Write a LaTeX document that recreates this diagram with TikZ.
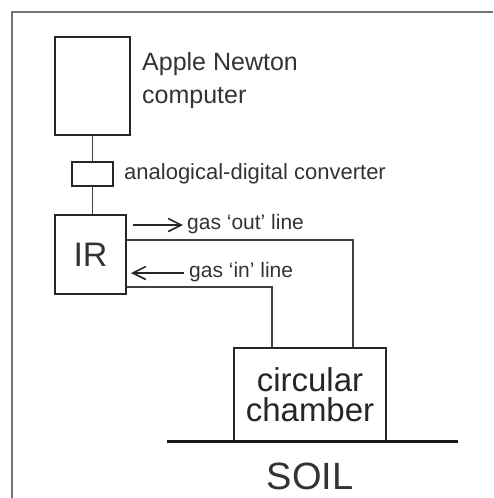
\documentclass[tikz,border=0pt]{standalone}
\usepackage{fontspec}
\setmainfont{Liberation Sans}
\usetikzlibrary{arrows.meta}

\tikzset{
  box/.style={draw=black!85, line width=1.7pt, inner sep=0pt},
  lbl/.style={text=black!80, inner sep=0pt},
  pipe/.style={draw=black!75, line width=1.3pt},
  tag/.style={draw=black!85, line width=1.2pt, -{Straight Barb[length=13pt,width=13pt,line width=1.6pt]}},
}

\begin{document}
\begin{tikzpicture}[x=1pt,y=-1pt]
  \useasboundingbox (0,0) rectangle (493,498);
  % frame
  \draw[black!55, line width=1.3pt] (12,498) -- (12,12) -- (493,12);

  % computer and converter
  \node[box, minimum width=75pt, minimum height=98pt] (computer) at (92.5,86) {};
  \node[lbl, anchor=west, align=left, font=\fontsize{25}{33}\selectfont] (compname) at (142,81) {Apple Newton\\computer};
  \node[box, minimum width=41pt, minimum height=24pt] (adc) at (92.5,174) {};
  \node[lbl, anchor=west, font=\fontsize{22}{26}\selectfont] (adcname) at (124,174) {analogical-digital converter};
  \draw[pipe] (computer.south) -- (adc.north);

  % analyser
  \node[box, minimum width=71pt, minimum height=79pt, text=black!80,
        font=\fontsize{34}{40}\selectfont] (IR) at (90.5,254.5) {IR};
  \draw[pipe] (adc.south) -- (adc.south |- IR.north);

  % chamber on the ground
  \node[box, minimum width=152pt, minimum height=93pt, align=center, text=black!85,
        font=\fontsize{33}{30}\selectfont] (chamber) at (310,394.5) {circular\\chamber};
  \draw[black!90, line width=3pt] (167,441) -- (458,441);
  \node[lbl, font=\fontsize{38}{44}\selectfont] (soil) at (310,476) {SOIL};

  % gas lines
  \draw[pipe] ([yshift=14.5pt]IR.east) -| ([xshift=43pt]chamber.north);
  \draw[pipe] ([yshift=-32.5pt]IR.east) -| ([xshift=-38pt]chamber.north);

  % labels
  \node[lbl, anchor=west, font=\fontsize{21}{25}\selectfont] (outname) at (187,224) {gas `out' line};
  \node[lbl, anchor=west, font=\fontsize{21}{25}\selectfont] (inname) at (189,272) {gas `in' line};
  \coordinate (outstart) at (133,225);
  \coordinate (inend) at (131,273);
  \draw[tag] (outstart) -- ([xshift=-4pt]outname.west |- outstart);
  \draw[tag] ([xshift=-5pt]inname.west |- inend) -- (inend);
\end{tikzpicture}
\end{document}
